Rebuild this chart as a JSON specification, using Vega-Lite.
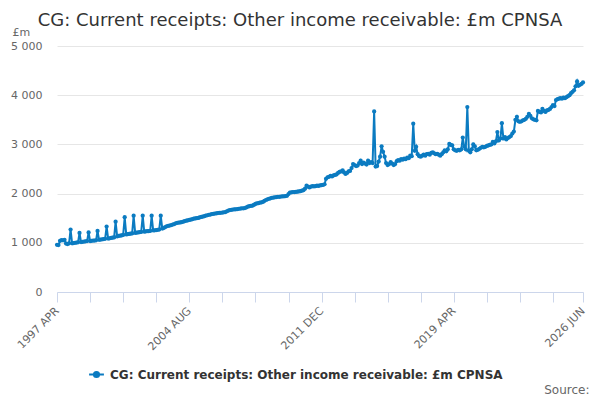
{
  "$schema": "https://vega.github.io/schema/vega-lite/v6.json",
  "width": 526,
  "height": 246,
  "autosize": {"type": "none"},
  "padding": {"left": 57, "top": 46, "right": 17, "bottom": 108},
  "background": "#ffffff",
  "config": {"view": {"stroke": null}, "font": "DejaVu Sans"},
  "title": {
    "text": "CG: Current receipts: Other income receivable: £m CPNSA",
    "font": "DejaVu Sans",
    "fontSize": 18,
    "fontWeight": "normal",
    "color": "#333333",
    "anchor": "middle",
    "frame": "group",
    "dx": -20,
    "offset": -4
  },
  "data": {
    "values": [
      {"month": "1997-04", "value": 960}, {"month": "1997-05", "value": 955}, {"month": "1997-06", "value": 1040},
      {"month": "1997-07", "value": 1055}, {"month": "1997-08", "value": 1050}, {"month": "1997-09", "value": 1060},
      {"month": "1997-10", "value": 985}, {"month": "1997-11", "value": 975}, {"month": "1997-12", "value": 990},
      {"month": "1998-01", "value": 1270}, {"month": "1998-02", "value": 990}, {"month": "1998-03", "value": 995},
      {"month": "1998-04", "value": 1000}, {"month": "1998-05", "value": 1005}, {"month": "1998-06", "value": 1010},
      {"month": "1998-07", "value": 1200}, {"month": "1998-08", "value": 1015}, {"month": "1998-09", "value": 1020},
      {"month": "1998-10", "value": 1025}, {"month": "1998-11", "value": 1030}, {"month": "1998-12", "value": 1035},
      {"month": "1999-01", "value": 1210}, {"month": "1999-02", "value": 1035}, {"month": "1999-03", "value": 1040},
      {"month": "1999-04", "value": 1045}, {"month": "1999-05", "value": 1045}, {"month": "1999-06", "value": 1050},
      {"month": "1999-07", "value": 1240}, {"month": "1999-08", "value": 1060}, {"month": "1999-09", "value": 1065},
      {"month": "1999-10", "value": 1070}, {"month": "1999-11", "value": 1075}, {"month": "1999-12", "value": 1080},
      {"month": "2000-01", "value": 1330}, {"month": "2000-02", "value": 1085}, {"month": "2000-03", "value": 1090},
      {"month": "2000-04", "value": 1100}, {"month": "2000-05", "value": 1105}, {"month": "2000-06", "value": 1110},
      {"month": "2000-07", "value": 1430}, {"month": "2000-08", "value": 1130}, {"month": "2000-09", "value": 1140},
      {"month": "2000-10", "value": 1145}, {"month": "2000-11", "value": 1150}, {"month": "2000-12", "value": 1160},
      {"month": "2001-01", "value": 1520}, {"month": "2001-02", "value": 1170}, {"month": "2001-03", "value": 1175},
      {"month": "2001-04", "value": 1180}, {"month": "2001-05", "value": 1185}, {"month": "2001-06", "value": 1190},
      {"month": "2001-07", "value": 1550}, {"month": "2001-08", "value": 1200}, {"month": "2001-09", "value": 1205},
      {"month": "2001-10", "value": 1210}, {"month": "2001-11", "value": 1215}, {"month": "2001-12", "value": 1220},
      {"month": "2002-01", "value": 1550}, {"month": "2002-02", "value": 1225}, {"month": "2002-03", "value": 1230},
      {"month": "2002-04", "value": 1235}, {"month": "2002-05", "value": 1235}, {"month": "2002-06", "value": 1240},
      {"month": "2002-07", "value": 1550}, {"month": "2002-08", "value": 1250}, {"month": "2002-09", "value": 1255},
      {"month": "2002-10", "value": 1260}, {"month": "2002-11", "value": 1265}, {"month": "2002-12", "value": 1270},
      {"month": "2003-01", "value": 1550}, {"month": "2003-02", "value": 1290}, {"month": "2003-03", "value": 1300},
      {"month": "2003-04", "value": 1320}, {"month": "2003-05", "value": 1335}, {"month": "2003-06", "value": 1345},
      {"month": "2003-07", "value": 1350}, {"month": "2003-08", "value": 1360}, {"month": "2003-09", "value": 1370},
      {"month": "2003-10", "value": 1380}, {"month": "2003-11", "value": 1395}, {"month": "2003-12", "value": 1405},
      {"month": "2004-01", "value": 1410}, {"month": "2004-02", "value": 1415}, {"month": "2004-03", "value": 1420},
      {"month": "2004-04", "value": 1430}, {"month": "2004-05", "value": 1440}, {"month": "2004-06", "value": 1450},
      {"month": "2004-07", "value": 1455}, {"month": "2004-08", "value": 1465}, {"month": "2004-09", "value": 1470},
      {"month": "2004-10", "value": 1480}, {"month": "2004-11", "value": 1490}, {"month": "2004-12", "value": 1495},
      {"month": "2005-01", "value": 1500}, {"month": "2005-02", "value": 1505}, {"month": "2005-03", "value": 1515},
      {"month": "2005-04", "value": 1525}, {"month": "2005-05", "value": 1530}, {"month": "2005-06", "value": 1540},
      {"month": "2005-07", "value": 1550}, {"month": "2005-08", "value": 1560}, {"month": "2005-09", "value": 1570},
      {"month": "2005-10", "value": 1575}, {"month": "2005-11", "value": 1585}, {"month": "2005-12", "value": 1590},
      {"month": "2006-01", "value": 1595}, {"month": "2006-02", "value": 1600}, {"month": "2006-03", "value": 1605},
      {"month": "2006-04", "value": 1610}, {"month": "2006-05", "value": 1610}, {"month": "2006-06", "value": 1615},
      {"month": "2006-07", "value": 1620}, {"month": "2006-08", "value": 1625}, {"month": "2006-09", "value": 1640},
      {"month": "2006-10", "value": 1655}, {"month": "2006-11", "value": 1665}, {"month": "2006-12", "value": 1670},
      {"month": "2007-01", "value": 1675}, {"month": "2007-02", "value": 1680}, {"month": "2007-03", "value": 1680},
      {"month": "2007-04", "value": 1685}, {"month": "2007-05", "value": 1690}, {"month": "2007-06", "value": 1695},
      {"month": "2007-07", "value": 1700}, {"month": "2007-08", "value": 1700}, {"month": "2007-09", "value": 1705},
      {"month": "2007-10", "value": 1720}, {"month": "2007-11", "value": 1735}, {"month": "2007-12", "value": 1745},
      {"month": "2008-01", "value": 1750}, {"month": "2008-02", "value": 1755}, {"month": "2008-03", "value": 1770},
      {"month": "2008-04", "value": 1790}, {"month": "2008-05", "value": 1800}, {"month": "2008-06", "value": 1805},
      {"month": "2008-07", "value": 1815}, {"month": "2008-08", "value": 1820}, {"month": "2008-09", "value": 1830},
      {"month": "2008-10", "value": 1850}, {"month": "2008-11", "value": 1870}, {"month": "2008-12", "value": 1885},
      {"month": "2009-01", "value": 1895}, {"month": "2009-02", "value": 1905}, {"month": "2009-03", "value": 1915},
      {"month": "2009-04", "value": 1920}, {"month": "2009-05", "value": 1925}, {"month": "2009-06", "value": 1930},
      {"month": "2009-07", "value": 1935}, {"month": "2009-08", "value": 1935}, {"month": "2009-09", "value": 1940},
      {"month": "2009-10", "value": 1945}, {"month": "2009-11", "value": 1945}, {"month": "2009-12", "value": 1950},
      {"month": "2010-01", "value": 1955}, {"month": "2010-02", "value": 1990}, {"month": "2010-03", "value": 2020},
      {"month": "2010-04", "value": 2025}, {"month": "2010-05", "value": 2030}, {"month": "2010-06", "value": 2030},
      {"month": "2010-07", "value": 2035}, {"month": "2010-08", "value": 2040}, {"month": "2010-09", "value": 2045},
      {"month": "2010-10", "value": 2050}, {"month": "2010-11", "value": 2060}, {"month": "2010-12", "value": 2070},
      {"month": "2011-01", "value": 2100}, {"month": "2011-02", "value": 2160}, {"month": "2011-03", "value": 2140},
      {"month": "2011-04", "value": 2125}, {"month": "2011-05", "value": 2140}, {"month": "2011-06", "value": 2150},
      {"month": "2011-07", "value": 2145}, {"month": "2011-08", "value": 2150}, {"month": "2011-09", "value": 2160},
      {"month": "2011-10", "value": 2155}, {"month": "2011-11", "value": 2165}, {"month": "2011-12", "value": 2170},
      {"month": "2012-01", "value": 2175}, {"month": "2012-02", "value": 2190}, {"month": "2012-03", "value": 2300},
      {"month": "2012-04", "value": 2330}, {"month": "2012-05", "value": 2340}, {"month": "2012-06", "value": 2360},
      {"month": "2012-07", "value": 2350}, {"month": "2012-08", "value": 2370}, {"month": "2012-09", "value": 2380},
      {"month": "2012-10", "value": 2390}, {"month": "2012-11", "value": 2420}, {"month": "2012-12", "value": 2440},
      {"month": "2013-01", "value": 2450}, {"month": "2013-02", "value": 2470}, {"month": "2013-03", "value": 2430},
      {"month": "2013-04", "value": 2400}, {"month": "2013-05", "value": 2420}, {"month": "2013-06", "value": 2450},
      {"month": "2013-07", "value": 2460}, {"month": "2013-08", "value": 2520}, {"month": "2013-09", "value": 2600},
      {"month": "2013-10", "value": 2580}, {"month": "2013-11", "value": 2560}, {"month": "2013-12", "value": 2570},
      {"month": "2014-01", "value": 2620}, {"month": "2014-02", "value": 2670}, {"month": "2014-03", "value": 2600},
      {"month": "2014-04", "value": 2630}, {"month": "2014-05", "value": 2610}, {"month": "2014-06", "value": 2590},
      {"month": "2014-07", "value": 2670}, {"month": "2014-08", "value": 2620}, {"month": "2014-09", "value": 2640},
      {"month": "2014-10", "value": 2620}, {"month": "2014-11", "value": 3670}, {"month": "2014-12", "value": 2550},
      {"month": "2015-01", "value": 2560}, {"month": "2015-02", "value": 2650}, {"month": "2015-03", "value": 2750},
      {"month": "2015-04", "value": 2960}, {"month": "2015-05", "value": 2850}, {"month": "2015-06", "value": 2750},
      {"month": "2015-07", "value": 2620}, {"month": "2015-08", "value": 2580}, {"month": "2015-09", "value": 2600},
      {"month": "2015-10", "value": 2640}, {"month": "2015-11", "value": 2610}, {"month": "2015-12", "value": 2580},
      {"month": "2016-01", "value": 2600}, {"month": "2016-02", "value": 2660}, {"month": "2016-03", "value": 2680},
      {"month": "2016-04", "value": 2670}, {"month": "2016-05", "value": 2700}, {"month": "2016-06", "value": 2690},
      {"month": "2016-07", "value": 2710}, {"month": "2016-08", "value": 2700}, {"month": "2016-09", "value": 2730},
      {"month": "2016-10", "value": 2720}, {"month": "2016-11", "value": 2770}, {"month": "2016-12", "value": 2760},
      {"month": "2017-01", "value": 3420}, {"month": "2017-02", "value": 2870}, {"month": "2017-03", "value": 2950},
      {"month": "2017-04", "value": 2800}, {"month": "2017-05", "value": 2760}, {"month": "2017-06", "value": 2750},
      {"month": "2017-07", "value": 2770}, {"month": "2017-08", "value": 2790}, {"month": "2017-09", "value": 2770},
      {"month": "2017-10", "value": 2800}, {"month": "2017-11", "value": 2810}, {"month": "2017-12", "value": 2790},
      {"month": "2018-01", "value": 2830}, {"month": "2018-02", "value": 2840}, {"month": "2018-03", "value": 2820},
      {"month": "2018-04", "value": 2800}, {"month": "2018-05", "value": 2810}, {"month": "2018-06", "value": 2790},
      {"month": "2018-07", "value": 2770}, {"month": "2018-08", "value": 2800}, {"month": "2018-09", "value": 2840},
      {"month": "2018-10", "value": 2880}, {"month": "2018-11", "value": 2860}, {"month": "2018-12", "value": 2900},
      {"month": "2019-01", "value": 3010}, {"month": "2019-02", "value": 2990}, {"month": "2019-03", "value": 2980},
      {"month": "2019-04", "value": 2900}, {"month": "2019-05", "value": 2880}, {"month": "2019-06", "value": 2870},
      {"month": "2019-07", "value": 2890}, {"month": "2019-08", "value": 2880}, {"month": "2019-09", "value": 2900},
      {"month": "2019-10", "value": 3140}, {"month": "2019-11", "value": 2950}, {"month": "2019-12", "value": 2900},
      {"month": "2020-01", "value": 3760}, {"month": "2020-02", "value": 2870}, {"month": "2020-03", "value": 2840},
      {"month": "2020-04", "value": 2900}, {"month": "2020-05", "value": 3000}, {"month": "2020-06", "value": 2960},
      {"month": "2020-07", "value": 2880}, {"month": "2020-08", "value": 2890}, {"month": "2020-09", "value": 2910},
      {"month": "2020-10", "value": 2930}, {"month": "2020-11", "value": 2950}, {"month": "2020-12", "value": 2940},
      {"month": "2021-01", "value": 2950}, {"month": "2021-02", "value": 2970}, {"month": "2021-03", "value": 2980},
      {"month": "2021-04", "value": 2990}, {"month": "2021-05", "value": 3000}, {"month": "2021-06", "value": 3050},
      {"month": "2021-07", "value": 3020}, {"month": "2021-08", "value": 3060}, {"month": "2021-09", "value": 3250},
      {"month": "2021-10", "value": 3080}, {"month": "2021-11", "value": 3120}, {"month": "2021-12", "value": 3430},
      {"month": "2022-01", "value": 3120}, {"month": "2022-02", "value": 3150}, {"month": "2022-03", "value": 3100},
      {"month": "2022-04", "value": 3130}, {"month": "2022-05", "value": 3150}, {"month": "2022-06", "value": 3170},
      {"month": "2022-07", "value": 3220}, {"month": "2022-08", "value": 3260}, {"month": "2022-09", "value": 3500},
      {"month": "2022-10", "value": 3560}, {"month": "2022-11", "value": 3470}, {"month": "2022-12", "value": 3460},
      {"month": "2023-01", "value": 3470}, {"month": "2023-02", "value": 3490}, {"month": "2023-03", "value": 3500},
      {"month": "2023-04", "value": 3520}, {"month": "2023-05", "value": 3560}, {"month": "2023-06", "value": 3620},
      {"month": "2023-07", "value": 3580}, {"month": "2023-08", "value": 3530}, {"month": "2023-09", "value": 3510},
      {"month": "2023-10", "value": 3500}, {"month": "2023-11", "value": 3490}, {"month": "2023-12", "value": 3680},
      {"month": "2024-01", "value": 3660}, {"month": "2024-02", "value": 3650}, {"month": "2024-03", "value": 3720},
      {"month": "2024-04", "value": 3680}, {"month": "2024-05", "value": 3660}, {"month": "2024-06", "value": 3690},
      {"month": "2024-07", "value": 3700}, {"month": "2024-08", "value": 3720}, {"month": "2024-09", "value": 3760},
      {"month": "2024-10", "value": 3800}, {"month": "2024-11", "value": 3780}, {"month": "2024-12", "value": 3900},
      {"month": "2025-01", "value": 3920}, {"month": "2025-02", "value": 3930}, {"month": "2025-03", "value": 3940},
      {"month": "2025-04", "value": 3930}, {"month": "2025-05", "value": 3950}, {"month": "2025-06", "value": 3940},
      {"month": "2025-07", "value": 3960}, {"month": "2025-08", "value": 3980}, {"month": "2025-09", "value": 4000},
      {"month": "2025-10", "value": 4040}, {"month": "2025-11", "value": 4070}, {"month": "2025-12", "value": 4100},
      {"month": "2026-01", "value": 4180}, {"month": "2026-02", "value": 4280}, {"month": "2026-03", "value": 4190},
      {"month": "2026-04", "value": 4210}, {"month": "2026-05", "value": 4230}, {"month": "2026-06", "value": 4260}
    ]
  },
  "mark": {"type": "line", "strokeWidth": 2, "point": {"filled": true, "size": 18}},
  "encoding": {
    "x": {
      "field": "month",
      "type": "temporal",
      "scale": {
        "type": "utc",
        "nice": false,
        "domain": [
          {"year": 1997, "month": 4, "date": 1, "utc": true},
          {"year": 2026, "month": 6, "date": 1, "utc": true}
        ]
      },
      "axis": {
        "values": [
          {"year": 1997, "month": 4, "date": 1, "utc": true},
          {"year": 1999, "month": 2, "date": 1, "utc": true},
          {"year": 2000, "month": 12, "date": 1, "utc": true},
          {"year": 2002, "month": 10, "date": 1, "utc": true},
          {"year": 2004, "month": 8, "date": 1, "utc": true},
          {"year": 2006, "month": 6, "date": 1, "utc": true},
          {"year": 2008, "month": 4, "date": 1, "utc": true},
          {"year": 2010, "month": 2, "date": 1, "utc": true},
          {"year": 2011, "month": 12, "date": 1, "utc": true},
          {"year": 2013, "month": 10, "date": 1, "utc": true},
          {"year": 2015, "month": 8, "date": 1, "utc": true},
          {"year": 2017, "month": 6, "date": 1, "utc": true},
          {"year": 2019, "month": 4, "date": 1, "utc": true},
          {"year": 2021, "month": 2, "date": 1, "utc": true},
          {"year": 2022, "month": 12, "date": 1, "utc": true},
          {"year": 2024, "month": 10, "date": 1, "utc": true},
          {"year": 2026, "month": 6, "date": 1, "utc": true}
        ],
        "labelExpr": "indexof(['1997 APR','2004 AUG','2011 DEC','2019 APR','2026 JUN'], upper(utcFormat(datum.value, '%Y %b'))) >= 0 ? upper(utcFormat(datum.value, '%Y %b')) : ''",
        "labelAngle": -45,
        "labelAlign": "right",
        "labelBaseline": "middle",
        "labelFont": "DejaVu Sans",
        "labelFontSize": 11,
        "labelColor": "#666666",
        "labelPadding": 7,
        "labelOverlap": false,
        "labelFlush": false,
        "labelBound": false,
        "tickSize": 10,
        "tickColor": "#ccd6eb",
        "domainColor": "#ccd6eb",
        "grid": false,
        "title": "Source:",
        "titleX": 532,
        "titleY": 101,
        "titleAlign": "right",
        "titleBaseline": "alphabetic",
        "titleFont": "DejaVu Sans",
        "titleFontSize": 12,
        "titleFontWeight": "normal",
        "titleColor": "#666666"
      }
    },
    "y": {
      "field": "value",
      "type": "quantitative",
      "scale": {"domain": [0, 5000], "nice": false},
      "axis": {
        "values": [0, 1000, 2000, 3000, 4000, 5000],
        "labelExpr": "replace(format(datum.value, ','), ',', ' ')",
        "labelFont": "DejaVu Sans",
        "labelFontSize": 11,
        "labelColor": "#666666",
        "labelPadding": 15,
        "ticks": false,
        "domain": false,
        "gridColor": "#e6e6e6",
        "title": "£m",
        "titleAngle": 0,
        "titleX": -45,
        "titleY": -14,
        "titleAlign": "left",
        "titleBaseline": "middle",
        "titleFont": "DejaVu Sans",
        "titleFontSize": 11,
        "titleFontWeight": "normal",
        "titleColor": "#666666"
      }
    },
    "color": {
      "datum": "CG: Current receipts: Other income receivable: £m CPNSA",
      "type": "nominal",
      "scale": {"range": ["#0b7bc1"]},
      "legend": {
        "orient": "none",
        "legendX": 31,
        "legendY": 320,
        "title": null,
        "symbolType": "M-1,0L1,0M0.35,0A0.35,0.35,0,1,1,-0.35,0A0.35,0.35,0,1,1,0.35,0Z",
        "symbolSize": 220,
        "symbolStrokeWidth": 2,
        "symbolFillColor": "#0b7bc1",
        "symbolStrokeColor": "#0b7bc1",
        "labelFont": "DejaVu Sans",
        "labelFontSize": 12,
        "labelFontWeight": "bold",
        "labelColor": "#333333",
        "labelLimit": 0,
        "labelOffset": 5
      }
    }
  }
}
